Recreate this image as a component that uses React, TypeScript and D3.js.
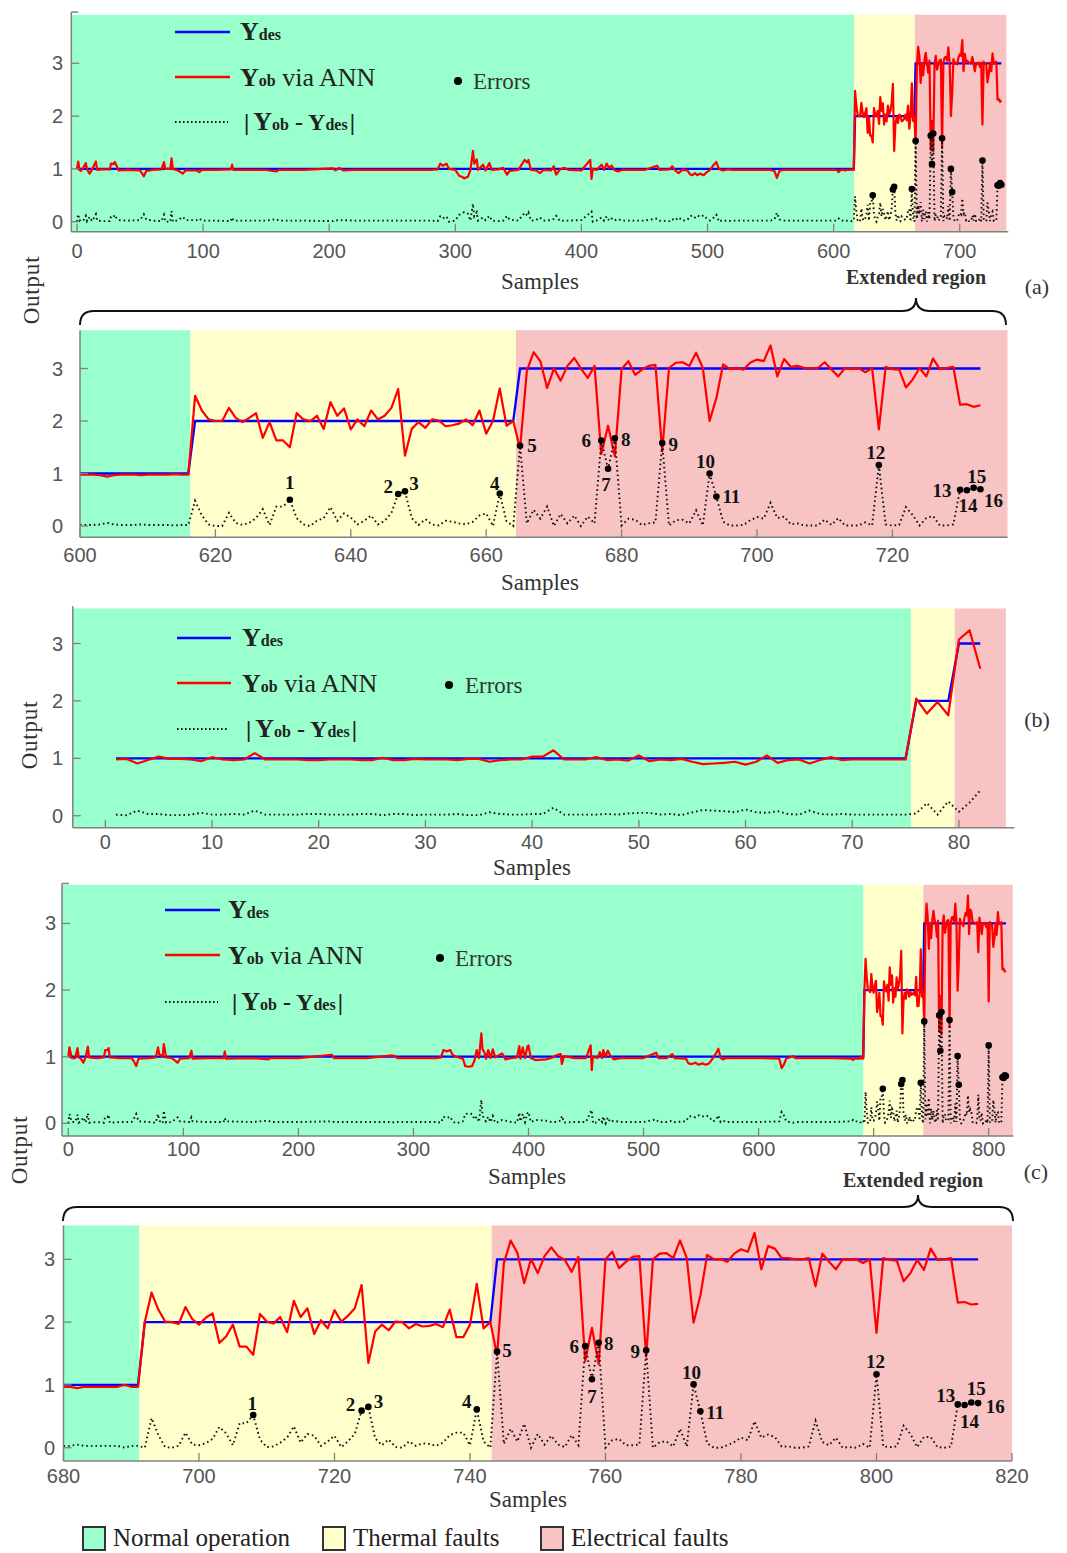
import React from 'react';
import * as d3 from 'd3';

const SERIF = '"Liberation Serif", "DejaVu Serif", serif';
const SANS = '"Liberation Sans", Arial, sans-serif';

// ---------- data ----------
// panel (a): normal operation, samples 0..599 (observed output, read as vertices)
const aNormalObs: [number, number][] = [
  [0, 1.0], [1, 1.14], [2, 0.98], [3, 0.96], [5, 1.02], [7, 1.11], [8, 0.99], [10, 0.91], [12, 0.99], [15, 1.14],
  [16, 0.98], [20, 0.99], [26, 0.99], [27, 1.1], [29, 1.09], [30, 1.13], [31, 1.08], [33, 0.97], [40, 0.98], [50, 0.97],
  [52, 0.9], [53, 0.86], [55, 0.96], [60, 0.98], [67, 0.99], [69, 1.13], [70, 1.0], [74, 1.0], [75, 1.2], [76, 1.0],
  [80, 0.97], [84, 0.91], [86, 0.97], [95, 0.97], [97, 0.94], [99, 0.98], [110, 0.98], [122, 0.99], [123, 1.08], [124, 0.98],
  [140, 0.98], [150, 0.98], [158, 0.95], [160, 0.98], [180, 0.98], [203, 1.01], [205, 0.97], [208, 1.02], [211, 0.97], [220, 0.98],
  [240, 0.98], [260, 0.98], [280, 0.98], [286, 0.99], [288, 1.1], [290, 1.06], [293, 1.1], [295, 1.0], [300, 0.98], [303, 0.87],
  [306, 0.84], [307, 0.82], [310, 0.85], [312, 0.98], [314, 1.34], [315, 1.1], [317, 1.18], [318, 0.98], [322, 1.08], [324, 0.97],
  [327, 1.11], [329, 0.98], [334, 0.99], [338, 1.02], [341, 0.89], [343, 0.96], [350, 0.98], [355, 1.17], [357, 1.12], [358, 1.17],
  [360, 0.98], [364, 0.97], [367, 0.92], [370, 0.98], [376, 0.97], [378, 1.05], [380, 0.89], [383, 0.99], [386, 1.02], [390, 0.98],
  [400, 0.97], [407, 1.17], [408, 0.81], [409, 1.0], [412, 0.98], [416, 1.08], [418, 0.98], [420, 1.1], [422, 1.02], [424, 1.06],
  [426, 0.98], [429, 0.95], [432, 0.98], [440, 0.98], [450, 0.98], [460, 1.06], [462, 0.98], [470, 0.99], [472, 1.05], [474, 0.98],
  [477, 0.92], [480, 0.98], [484, 0.97], [486, 0.9], [488, 0.88], [490, 0.92], [492, 0.88], [494, 0.91], [497, 0.88], [499, 0.93],
  [502, 0.98], [505, 1.08], [507, 1.13], [509, 1.0], [512, 0.97], [516, 0.99], [520, 0.98], [530, 0.98], [540, 0.98], [550, 0.98],
  [553, 0.96], [555, 0.83], [557, 0.96], [560, 0.98], [570, 0.98], [580, 0.98], [590, 0.98], [599, 0.98],
];
// panel (a): extended region, samples 600..733 (one value per sample)
const aExtStart = 600;
const aExtObs = [
  0.98, 0.98, 0.98, 0.97, 0.94, 0.97, 0.98, 0.98, 0.98, 0.97, 0.98, 0.98, 0.98, 0.98, 0.99, 0.98, 0.98,
  2.48, 2.2, 2.03, 2.0, 2.0, 2.25, 2.06, 1.98, 2.06, 2.15, 1.68, 1.98, 1.63, 1.63, 1.5, 2.15, 2.03, 2.0, 2.1,
  1.85, 2.36, 2.1, 2.24, 1.84, 2.03, 1.9, 2.2, 2.03, 2.1, 2.25, 2.61, 1.34, 1.85, 1.98, 1.87, 2.03, 2.01, 1.9,
  1.92, 1.95, 2.03, 1.92, 2.2, 1.76, 2.0, 2.62, 1.91, 2.0,
  1.47, 2.95, 3.31, 3.14, 2.63, 3.0, 2.77, 3.05, 3.2, 3.0, 2.82, 3.05, 1.37, 1.91, 1.33, 2.99, 3.14, 2.88, 2.98,
  3.05, 3.07, 1.42, 3.01, 3.11, 3.12, 3.05, 3.3, 3.01, 2.0, 2.44, 3.08, 2.99, 3.01, 2.98, 3.11, 3.17, 3.14, 3.44,
  2.85, 3.18, 3.03, 3.05, 3.01, 3.01, 3.01, 3.12, 2.98, 2.85, 3.01, 2.99, 3.01, 2.93, 3.01, 1.84, 3.03, 2.99, 2.98,
  2.64, 2.79, 3.01, 2.85, 3.19, 2.99, 3.01, 3.03, 2.31, 2.32, 2.27, 2.3,
];
const aDesired: [number, number, number][] = [[0, 616, 1], [617, 664, 2], [665, 733, 3]];
const aErrorSamples = [631, 647, 648, 662, 665, 677, 678, 679, 686, 693, 694, 718, 730, 731, 732, 733];
const aRegions: [number, number, string][] = [[-10, 616.3, 'normal'], [616.3, 664.4, 'thermal'], [664.4, 737, 'electrical']];

// panel (b): samples 1..82
const bObs = [
  0.98, 0.99, 0.91, 0.97, 1.03, 0.99, 0.99, 0.98, 0.95, 1.02,
  0.98, 0.97, 0.98, 1.09, 0.98, 0.98, 0.98, 0.98, 0.97, 0.97,
  0.98, 0.98, 0.98, 0.97, 0.97, 1.01, 0.97, 0.97, 0.99, 0.98,
  0.98, 0.98, 0.97, 0.99, 0.99, 0.94, 0.97, 0.98, 0.98, 1.03,
  1.03, 1.14, 0.98, 0.98, 0.98, 1.02, 0.97, 0.98, 0.96, 1.05,
  0.95, 0.98, 0.97, 0.99, 0.94, 0.9, 0.91, 0.92, 0.94, 0.89,
  0.94, 1.05, 0.92, 0.97, 0.98, 0.91, 0.97, 1.02, 0.97, 0.98,
  0.98, 0.98, 0.98, 0.98, 0.98,
  2.04, 1.78, 1.98, 1.75, 3.07, 3.23, 2.56,
];
const bStart = 1;
const bDesired: [number, number, number][] = [[1, 75, 1], [76, 79, 2], [80, 82, 3]];
const bRegions: [number, number, string][] = [[-10, 75.5, 'normal'], [75.5, 79.6, 'thermal'], [79.6, 84.4, 'electrical']];

// panel (c): normal operation, samples 0..679
const cNormalObs: [number, number][] = [
  [0, 1.0], [1, 1.14], [3, 0.98], [6, 0.98], [8, 1.13], [9, 0.99], [11, 0.97], [13, 0.91], [15, 0.99], [17, 1.15],
  [18, 0.99], [25, 0.98], [31, 0.99], [32, 1.1], [34, 1.1], [35, 1.13], [36, 0.99], [45, 0.98], [55, 0.98], [57, 0.93],
  [59, 0.86], [61, 0.97], [70, 0.98], [76, 0.99], [78, 1.14], [79, 1.04], [82, 1.0], [83, 1.19], [85, 0.99], [90, 0.98],
  [95, 0.91], [97, 0.97], [105, 0.98], [107, 1.09], [108, 0.97], [120, 0.98], [135, 0.98], [136, 1.08], [137, 0.97], [160, 0.98],
  [174, 0.96], [176, 0.98], [200, 0.98], [229, 1.03], [231, 0.98], [260, 0.98], [281, 1.02], [284, 1.01], [286, 0.98], [300, 0.98],
  [320, 0.98], [324, 0.99], [326, 1.1], [329, 1.08], [332, 1.1], [334, 1.03], [337, 1.0], [343, 0.97], [345, 0.86], [348, 0.85],
  [351, 0.86], [353, 0.94], [355, 1.1], [357, 0.98], [359, 1.35], [360, 1.12], [362, 1.05], [363, 0.97], [365, 1.1], [367, 0.98],
  [369, 1.11], [371, 0.99], [374, 1.02], [377, 1.05], [380, 0.96], [385, 0.98], [390, 0.99], [392, 1.16], [393, 0.97], [395, 1.14],
  [397, 0.98], [399, 1.15], [400, 1.17], [402, 0.98], [406, 0.95], [415, 0.96], [420, 0.98], [424, 1.02], [428, 1.04], [429, 0.89],
  [431, 1.01], [440, 0.98], [450, 0.98], [454, 1.17], [455, 0.8], [456, 1.0], [460, 0.98], [462, 1.07], [464, 0.98], [465, 1.1],
  [467, 1.0], [469, 1.09], [471, 1.02], [474, 0.96], [480, 0.98], [500, 0.98], [511, 1.06], [513, 0.98], [520, 0.98], [525, 1.04],
  [527, 0.98], [537, 0.97], [539, 0.9], [542, 0.89], [545, 0.91], [548, 0.88], [551, 0.9], [554, 0.88], [557, 0.9], [560, 0.97],
  [563, 1.05], [565, 1.12], [567, 0.98], [569, 0.96], [572, 0.98], [580, 0.98], [600, 0.98], [618, 0.97], [620, 0.83], [622, 0.88],
  [624, 0.97], [630, 1.01], [632, 0.98], [650, 0.98], [665, 0.98], [679, 0.97],
];
// panel (c): extended region, samples 680..815
const cExtStart = 680;
const cExtObs = [
  0.97, 0.97, 0.95, 0.97, 0.97, 0.97, 0.97, 0.97, 0.97, 1.0, 0.97, 0.97,
  2.0, 2.47, 2.2, 2.01, 2.0, 1.97, 2.24, 2.05, 1.96, 2.07, 2.14, 1.67, 1.77, 1.96, 1.61, 1.61, 1.48, 2.13,
  2.01, 1.98, 2.08, 1.84, 2.34, 2.08, 2.22, 1.81, 2.03, 1.9, 2.19, 2.01, 2.1, 2.22, 2.59, 1.35, 1.85, 1.96,
  1.87, 2.01, 2.0, 1.9, 1.97, 1.93, 1.94, 1.97, 1.92, 2.2, 1.76, 1.76, 1.96, 2.61, 1.9, 2.0,
  1.47, 2.94, 3.3, 3.1, 2.62, 3.0, 2.78, 3.05, 3.19, 3.05, 2.99, 2.8, 3.04, 1.38, 1.91, 1.33, 3.0, 3.12,
  2.86, 2.96, 3.04, 3.05, 1.45, 3.0, 3.09, 3.1, 3.02, 3.3, 3.02, 1.99, 2.42, 3.07, 3.0, 3.0, 2.96, 3.09,
  3.16, 3.12, 3.42, 2.84, 3.21, 3.17, 3.02, 3.02, 3.0, 3.0, 3.02, 2.57, 3.09, 2.96, 2.84, 3.0, 2.99, 3.0,
  2.94, 3.0, 1.83, 3.02, 2.99, 2.98, 2.65, 2.78, 2.99, 2.83, 3.17, 2.99, 3.0, 3.02, 2.31, 2.32, 2.28, 2.29,
];
const cDesired: [number, number, number][] = [[0, 691, 1], [692, 743, 2], [744, 815, 3]];
const cErrorSamples = [708, 724, 725, 741, 744, 757, 758, 759, 766, 773, 774, 800, 812, 813, 814, 815];
const cRegions: [number, number, string][] = [[-10, 691.2, 'normal'], [691.2, 743.2, 'thermal'], [743.2, 821, 'electrical']];

const regionLegend = [
  { kind: 'normal', label: 'Normal operation' },
  { kind: 'thermal', label: 'Thermal faults' },
  { kind: 'electrical', label: 'Electrical faults' },
];

// label placement for the numbered error points (dx, dy from the dot)
const aLabelOffsets: [number, number][] = [
  [0, -17], [-10, -7], [9, -8], [-5, -10], [12, 0], [-15, 0], [-2, 16], [11, 1],
  [11, 1], [-4, -12], [15, 0], [-3, -13], [-18, 1], [1, 15], [3, -11], [13, 11],
];
const cLabelOffsets: [number, number][] = [
  [-1, -12], [-11, -6], [10, -5], [-10, -8], [10, -1], [-11, 1], [0, 17], [10, 1],
  [-11, 1], [-2, -12], [15, 1], [-1, -13], [-12, -9], [5, 16], [5, -14], [17, 3],
];

const regionColors: Record<string, string> = { normal: '#99FFCC', thermal: '#FFFFCC', electrical: '#F8C3C3' };

type Pt = { s: number; obs: number; des: number; err: number };

function desiredAt(s: number, steps: [number, number, number][]) {
  for (const [a, b, v] of steps) if (s >= a && s <= b) return v;
  return steps[steps.length - 1][2];
}

function makePoints(vertices: [number, number][], ext: number[], extStart: number, steps: [number, number, number][]): Pt[] {
  const raw = vertices.map(([s, v]) => ({ s, obs: v }));
  ext.forEach((v, i) => raw.push({ s: extStart + i, obs: v }));
  return raw.map((p) => {
    const des = desiredAt(p.s, steps);
    return { ...p, des, err: Math.abs(p.obs - des) };
  });
}

const aPts = makePoints(aNormalObs, aExtObs, aExtStart, aDesired);
const bPts = makePoints([], bObs, bStart, bDesired);
const cPts = makePoints(cNormalObs, cExtObs, cExtStart, cDesired);

const AXIS = '#808080';

function Panel(props: any) {
  const { pts, regions, errSamples, labelOffsets, xDomain, xRange, yDomain, yRange, bgTop, xTicks, yTicks, xLabelDy, yLabelX, stub } = props;
  const x = d3.scaleLinear().domain(xDomain).range(xRange);
  const y = d3.scaleLinear().domain(yDomain).range(yRange);
  const shown: Pt[] = pts.filter((p: Pt) => p.s >= xDomain[0] && p.s <= xDomain[1]);
  const path = (key: 'obs' | 'des' | 'err') =>
    d3.line<Pt>().x((p) => x(p.s)).y((p) => y(p[key]))(shown) || '';
  const errPts: Pt[] = (errSamples || []).map((s: number) => shown.find((p) => p.s === s)).filter(Boolean);
  const [x0, x1] = xRange;
  const [yb, yt] = yRange;
  const yTop = y(bgTop);
  return (
    <g>
      {regions.map(([a, b, kind]: [number, number, string], i: number) => {
        const xa = x(Math.max(a, xDomain[0]));
        const xb = x(Math.min(b, xDomain[1]));
        return <rect key={i} x={xa} y={yTop} width={xb - xa} height={yb - yTop} fill={regionColors[kind]} />;
      })}
      <path d={path('des')} fill="none" stroke="#0000FF" strokeWidth={2.3} />
      <path d={path('obs')} fill="none" stroke="#FF0000" strokeWidth={2.2} strokeLinejoin="round" />
      <path d={path('err')} fill="none" stroke="#111" strokeWidth={1.9} strokeDasharray="1.6 3" />
      {errPts.map((p) => (
        <circle key={p.s} cx={x(p.s)} cy={y(p.err)} r={3.3} fill="#000" />
      ))}
      {labelOffsets &&
        errPts.map((p, i) => (
          <text key={'l' + p.s} x={x(p.s) + labelOffsets[i][0]} y={y(p.err) + labelOffsets[i][1]} textAnchor="middle"
            dominantBaseline="central" fontFamily={SERIF} fontWeight="bold" fontSize={19} fill="#111">
            {i + 1}
          </text>
        ))}
      <line x1={x0} x2={x1} y1={yb} y2={yb} stroke={AXIS} strokeWidth={1.5} />
      <line x1={x0} x2={x0} y1={yb} y2={yt} stroke={AXIS} strokeWidth={1.5} />
      {stub && <line x1={x0} x2={x0 + 7} y1={yt} y2={yt} stroke={AXIS} strokeWidth={1.5} />}
      {xTicks.map((t: number) => (
        <g key={'x' + t}>
          <line x1={x(t)} x2={x(t)} y1={yb} y2={yb - 8} stroke={AXIS} strokeWidth={1.3} />
          <text x={x(t)} y={yb + xLabelDy} textAnchor="middle" fontFamily={SANS} fontSize={20} fill="#555">{t}</text>
        </g>
      ))}
      {yTicks.map((t: number) => (
        <g key={'y' + t}>
          <line x1={x0} x2={x0 + 8} y1={y(t)} y2={y(t)} stroke={AXIS} strokeWidth={1.3} />
          <text x={yLabelX} y={y(t) + 7} textAnchor="end" fontFamily={SANS} fontSize={20} fill="#555">{t}</text>
        </g>
      ))}
    </g>
  );
}

function Legend({ lx0, lx1, tx, rows, dot, errX }: any) {
  const [r1, r2, r3] = rows;
  return (
    <g fontFamily={SERIF} fill="#222">
      <line x1={lx0} x2={lx1} y1={r1} y2={r1} stroke="#0000FF" strokeWidth={2.5} />
      <text x={tx} y={r1 + 8} fontWeight="bold">
        <tspan fontSize={26}>Y</tspan><tspan fontSize={16}>des</tspan>
      </text>
      <line x1={lx0} x2={lx1} y1={r2} y2={r2} stroke="#FF0000" strokeWidth={2.5} />
      <text x={tx} y={r2 + 9}>
        <tspan fontSize={26} fontWeight="bold">Y</tspan><tspan fontSize={16} fontWeight="bold">ob</tspan>
        <tspan fontSize={26}> via ANN</tspan>
      </text>
      <circle cx={dot[0]} cy={dot[1]} r={4} fill="#000" />
      <text x={errX} y={dot[1] + 8} fontSize={23} fill="#333">Errors</text>
      <line x1={lx0} x2={lx1 - 2} y1={r3} y2={r3} stroke="#111" strokeWidth={2} strokeDasharray="1.6 2.4" />
      <text x={tx + 4} y={r3 + 8} fontWeight="bold">
        <tspan fontSize={24}>|</tspan>
        <tspan fontSize={26} dx={4}>Y</tspan><tspan fontSize={16}>ob</tspan>
        <tspan fontSize={24}> - Y</tspan><tspan fontSize={16}>des</tspan>
        <tspan fontSize={24} dx={2}>|</tspan>
      </text>
    </g>
  );
}

function Brace({ x0, x1, y, cx, h }: any) {
  const r = 14;
  const d = `M${x0},${y + r} Q${x0},${y} ${x0 + r},${y} L${cx - r},${y} Q${cx},${y} ${cx},${y - h} Q${cx},${y} ${cx + r},${y} L${x1 - r},${y} Q${x1},${y} ${x1},${y + r}`;
  return <path d={d} fill="none" stroke="#111" strokeWidth={2} />;
}

function Title({ x, y, children, size = 23, weight = 'normal', rotate = false }: any) {
  return (
    <text x={x} y={y} textAnchor="middle" fontFamily={SERIF} fontSize={size} fontWeight={weight} fill="#333"
      letterSpacing={rotate ? 0.8 : 0} transform={rotate ? `rotate(-90 ${x} ${y})` : undefined}>
      {children}
    </text>
  );
}

export default function App() {
  return (
    <svg width={1067} height={1553} style={{ position: 'absolute', left: 0, top: 0 }}>
      <rect width={1067} height={1553} fill="#fff" />

      {/* (a) full test */}
      <Panel pts={aPts} regions={aRegions} errSamples={aErrorSamples}
        xDomain={[-4.5, 738.5]} xRange={[71.3, 1008.3]} yDomain={[-0.19, 3.97]} yRange={[231.7, 12.1]} bgTop={3.92}
        xTicks={d3.range(0, 701, 100)} yTicks={[0, 1, 2, 3]} xLabelDy={26} yLabelX={63} stub />
      <Legend lx0={175} lx1={230} tx={240} rows={[32, 77, 122]} dot={[458, 81]} errX={473} />
      <Title x={540} y={289}>Samples</Title>
      <Title x={916} y={284} size={20} weight="bold">Extended region</Title>
      <Title x={1037} y={294} size={22}>(a)</Title>
      <Title x={39} y={290} size={23} rotate>Output</Title>
      <Brace x0={80} x1={1006} y={311} cx={916} h={13} />

      {/* (a) extended region */}
      <Panel pts={aPts} regions={aRegions} errSamples={aErrorSamples} labelOffsets={aLabelOffsets}
        xDomain={[600, 737]} xRange={[80, 1007.5]} yDomain={[-0.215, 3.73]} yRange={[537.3, 330.2]} bgTop={3.73}
        xTicks={d3.range(600, 721, 20)} yTicks={[0, 1, 2, 3]} xLabelDy={25} yLabelX={63} />
      <Title x={540} y={590}>Samples</Title>

      {/* (b) */}
      <Panel pts={bPts} regions={bRegions}
        xDomain={[-3.05, 85.2]} xRange={[72.8, 1014.4]} yDomain={[-0.21, 3.65]} yRange={[827.8, 606.2]} bgTop={3.61}
        xTicks={d3.range(0, 81, 10)} yTicks={[0, 1, 2, 3]} xLabelDy={21} yLabelX={63} />
      <Legend lx0={177} lx1={231} tx={242} rows={[638, 683, 729]} dot={[449, 685]} errX={465} />
      <Title x={532} y={875}>Samples</Title>
      <Title x={1037} y={727} size={22}>(b)</Title>
      <Title x={37} y={735} size={23} rotate>Output</Title>

      {/* (c) full test */}
      <Panel pts={cPts} regions={cRegions} errSamples={cErrorSamples}
        xDomain={[-5.5, 821.5]} xRange={[62, 1013.4]} yDomain={[-0.19, 3.6]} yRange={[1136, 883.5]} bgTop={3.58}
        xTicks={d3.range(0, 801, 100)} yTicks={[0, 1, 2, 3]} xLabelDy={20} yLabelX={56} stub />
      <Legend lx0={165} lx1={220} tx={228} rows={[910, 955, 1002]} dot={[440, 958]} errX={455} />
      <Title x={527} y={1184}>Samples</Title>
      <Title x={913} y={1187} size={20} weight="bold">Extended region</Title>
      <Title x={1036} y={1179} size={22}>(c)</Title>
      <Title x={27} y={1150} size={23} rotate>Output</Title>
      <Brace x0={63} x1={1013} y={1207} cx={918} h={12} />

      {/* (c) extended region */}
      <Panel pts={cPts} regions={cRegions} errSamples={cErrorSamples} labelOffsets={cLabelOffsets}
        xDomain={[680, 820]} xRange={[63.5, 1012]} yDomain={[-0.21, 3.54]} yRange={[1460.9, 1225.4]} bgTop={3.54}
        xTicks={d3.range(680, 821, 20)} yTicks={[0, 1, 2, 3]} xLabelDy={22} yLabelX={55} />
      <Title x={528} y={1507}>Samples</Title>

      {/* region legend */}
      {regionLegend.map((r, i) => {
        const x = [83, 323, 541][i];
        return (
          <g key={r.kind}>
            <rect x={x} y={1527} width={22} height={23} fill={regionColors[r.kind]} stroke="#333" strokeWidth={2} />
            <text x={x + 30} y={1546} fontFamily={SERIF} fontSize={25} fill="#222">{r.label}</text>
          </g>
        );
      })}
    </svg>
  );
}
